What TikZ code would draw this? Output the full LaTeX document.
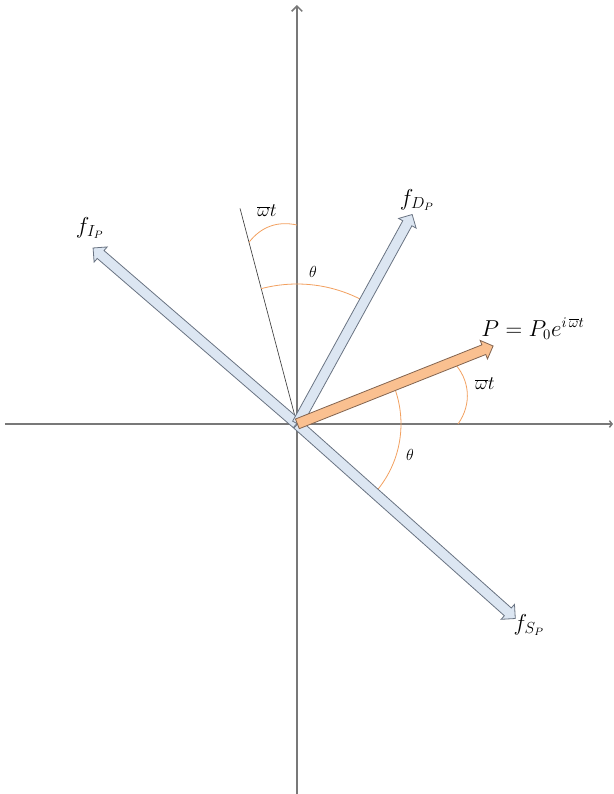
\documentclass[tikz,border=0pt]{standalone}
\usetikzlibrary{shapes.arrows, arrows.meta}
\definecolor{axisgray}{RGB}{120,120,120}
\definecolor{vecfill}{RGB}{220,230,242}
\definecolor{vecline}{RGB}{105,115,130}
\definecolor{loadfill}{RGB}{250,192,144}
\definecolor{loadline}{RGB}{130,100,80}
\definecolor{anglecol}{RGB}{242,160,95}
\newcommand{\wbar}{\overline{\omega}}

\begin{document}
\begin{tikzpicture}[x=0.75pt, y=0.75pt,
    axis/.style={axisgray, line width=1.1pt},
    vec/.style={single arrow, draw=vecline, fill=vecfill, line width=0.6pt,
                inner xsep=0pt, inner ysep=3.6pt, single arrow head extend=3.6pt,
                single arrow tip angle=90, anchor=tail},
    load/.style={vec, draw=loadline, fill=loadfill},
    angarc/.style={anglecol, line width=0.6pt},
    lab/.style={inner sep=0pt}]
  \useasboundingbox (-297,-370) rectangle (317,424);
  \coordinate (O) at (0,0);
  \coordinate (xl) at (-292,0);
  \coordinate (xr) at (316,0);
  \coordinate (yb) at (0,-370);
  \coordinate (yt) at (0,419);
  \draw[axis, -{Straight Barb[length=2pt,width=5pt]}] (xl) -- (xr);
  \draw[axis, -{Straight Barb[length=4pt,width=8pt]}] (yb) -- (yt);
  \coordinate (ref) at (104.8:223);
  \draw[black!75, line width=0.5pt] (O) -- (ref);
  \draw[angarc] (61.5:140) arc[start angle=61.5, end angle=104.8, radius=140];
  \draw[angarc] (21.7:104) arc[start angle=21.7, end angle=-41.7, radius=104];
  \coordinate (wa) at (161,0);
  \coordinate (wb) at (21.7:168);
  \draw[angarc] (wa) to[bend right=40] (wb);
  \coordinate (wc) at (0,199);
  \coordinate (wd) at (104.8:188);
  \draw[angarc] (wc) to[bend right=32] (wd);
  \node[vec, minimum height=201.75pt, rotate=139.2] (fI) at (O) {};
  \node[vec, minimum height=179pt, rotate=61.2] (fD) at (O) {};
  \node[vec, minimum height=219pt, rotate=-41.7] (fS) at (O) {};
  \node[load, minimum height=158pt, rotate=21.7] (P) at (O) {};
  \node[lab] (lI) at (-207,196) {\fontsize{17}{20}\selectfont $f_{I_P}$};
  \node[lab] (lD) at (120,224) {\fontsize{17}{20}\selectfont $f_{D_P}$};
  \node[lab] (lS) at (232,-201) {\fontsize{17}{20}\selectfont $f_{S_P}$};
  \node[lab] (lP) at (236,95) {\fontsize{16}{19}\selectfont $P=P_0e^{i\,\wbar t}$};
  \node[lab] (lt1) at (16,152) {\fontsize{12}{14}\selectfont $\theta$};
  \node[lab] (lt2) at (113,-31) {\fontsize{12}{14}\selectfont $\theta$};
  \node[lab] (lw1) at (-30,213) {\fontsize{14}{16}\selectfont $\wbar t$};
  \node[lab] (lw2) at (188,40) {\fontsize{14}{16}\selectfont $\wbar t$};
\end{tikzpicture}
\end{document}
